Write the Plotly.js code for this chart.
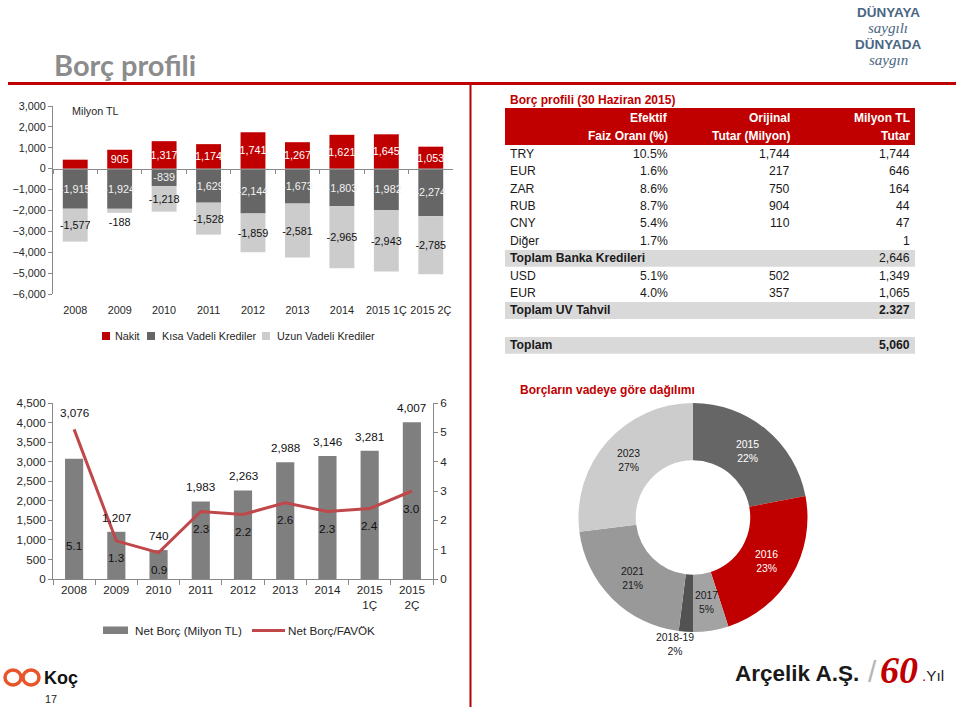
<!DOCTYPE html>
<html><head><meta charset="utf-8">
<script src="https://cdn.plot.ly/plotly-3.0.1.min.js"></script>
<style>html,body{margin:0;padding:0;background:#fff;}#chart{width:960px;height:707px;}</style>
</head><body><div id="chart"></div>
<script>
// ---------- DATA ----------
const years = ['2008','2009','2010','2011','2012','2013','2014','2015 1Ç','2015 2Ç'];
const nakit = [430, 905, 1317, 1174, 1741, 1267, 1621, 1645, 1053];
const kisaVadeli = [-1915, -1924, -839, -1629, -2144, -1673, -1803, -1982, -2274];
const uzunVadeli = [-1577, -188, -1218, -1528, -1859, -2581, -2965, -2943, -2785];
const nakitUnlabeled = ['2008'];
const topSeriesNames = ['Nakit', 'Kısa Vadeli Krediler', 'Uzun Vadeli Krediler'];

const nbYears = ['2008','2009','2010','2011','2012','2013','2014','2015<br>1Ç','2015<br>2Ç'];
const netBorc = [3076, 1207, 740, 1983, 2263, 2988, 3146, 3281, 4007];
const netBorcFavok = [5.1, 1.3, 0.9, 2.3, 2.2, 2.6, 2.3, 2.4, 3.0];
const bottomSeriesNames = ['Net Borç (Milyon TL)', 'Net Borç/FAVÖK'];

const vadeLabels = ['2015', '2016', '2017', '2018-19', '2021', '2023'];
const vadeShare = [22, 23, 5, 2, 21, 27];

const tblHeader1 = ['', 'Efektif', 'Orijinal', 'Milyon TL'];
const tblHeader2 = ['', 'Faiz Oranı (%)', 'Tutar (Milyon)', 'Tutar'];
const tblLabels = ['TRY','EUR','ZAR','RUB','CNY','Diğer','Toplam Banka Kredileri','USD','EUR','Toplam UV Tahvil','','Toplam'];
const tblRate = ['10.5%','1.6%','8.6%','8.7%','5.4%','1.7%','','5.1%','4.0%','','',''];
const tblOrig = ['1,744','217','750','904','110','','','502','357','','',''];
const tblTL = ['1,744','646','164','44','47','1','2,646','1,349','1,065','2.327','','5,060'];

// ---------- STYLE ----------
const W = 960, H = 707;
const px = v => v / W;
const py = v => 1 - v / H;
function fontExists(name){
  const c = document.createElement('canvas').getContext('2d');
  const t = 'abcdefghijklmnopqrstuvwxyz0123456789ABCDEF';
  c.font = '40px monospace'; const a = c.measureText(t).width;
  c.font = '40px "' + name + '", monospace'; const b = c.measureText(t).width;
  return Math.abs(a - b) > 0.5;
}
const HAS_NARROW = fontExists('Liberation Sans Narrow');
const NARROW = HAS_NARROW ? '"Liberation Sans Narrow", "Arial Narrow", sans-serif' : '"Liberation Sans", Arial, sans-serif';
const ns = s => HAS_NARROW ? s : Math.round(s * 0.9 * 10) / 10;
const ARIAL = '"Liberation Sans", Arial, sans-serif';
const C_RED = '#c00000', C_DARK = '#666666', C_LIGHT = '#cccccc', C_AXIS = '#898989', C_TXT = '#262626';
const C_BAR2 = '#7f7f7f', C_LINE = '#c0474a';
const vadeColors = ['#666666', '#c00000', '#a3a3a3', '#525252', '#999999', '#cccccc'];
const vadeTextColors = ['#ffffff', '#ffffff', '#1a1a1a', '#1a1a1a', '#1a1a1a', '#1a1a1a'];
const tblRowKind = ['', '', '', '', '', '', 'sub', '', '', 'total', 'gap', 'total'];
const barLabelLift = {'2008': 38};
const favokLabelDrop = {'2008': 116};

const fmt = v => v.toLocaleString('en-US');

// ---------- TOP CHART ----------
const TOP = {x0: 53, x1: 453, yTop: 106, yBot: 294, ymin: -6000, ymax: 3000};
const zeroPos = py(TOP.yBot) + (py(TOP.yTop) - py(TOP.yBot)) * (-TOP.ymin / (TOP.ymax - TOP.ymin));
const topColors = [C_RED, C_DARK, C_LIGHT];
const barCommon = {type: 'bar', x: years, xaxis: 'x', yaxis: 'y', width: 0.56, textangle: 0,
  constraintext: 'none', insidetextanchor: 'middle', hoverinfo: 'skip', cliponaxis: false};
const traces = [];
traces.push(Object.assign({}, barCommon, {name: topSeriesNames[0], y: nakit, marker: {color: topColors[0]},
  text: nakit.map((v, i) => nakitUnlabeled.includes(years[i]) ? '' : fmt(v)), textposition: 'inside',
  insidetextfont: {family: NARROW, size: ns(12), color: '#ffffff'}}));
traces.push(Object.assign({}, barCommon, {name: topSeriesNames[1], y: kisaVadeli, marker: {color: topColors[1]},
  text: kisaVadeli.map(fmt), textposition: 'inside',
  insidetextfont: {family: NARROW, size: ns(12), color: '#f2f2f2'}}));
traces.push(Object.assign({}, barCommon, {name: topSeriesNames[2], y: uzunVadeli, marker: {color: topColors[2]},
  text: uzunVadeli.map(fmt), textposition: uzunVadeli.map(v => Math.abs(v) < 500 ? 'outside' : 'inside'),
  insidetextfont: {family: NARROW, size: ns(12), color: '#111111'},
  outsidetextfont: {family: NARROW, size: ns(12), color: '#111111'}}));

// ---------- BOTTOM CHART ----------
const BOT = {x0: 53, x1: 433, yTop: 403, yBot: 579};
traces.push({type: 'bar', name: bottomSeriesNames[0], x: nbYears, y: netBorc, xaxis: 'x2', yaxis: 'y2', width: 0.43,
  marker: {color: C_BAR2}, hoverinfo: 'skip'});
traces.push({type: 'scatter', mode: 'lines', name: bottomSeriesNames[1], x: nbYears, y: netBorcFavok, xaxis: 'x2', yaxis: 'y3',
  line: {color: C_LINE, width: 3}, hoverinfo: 'skip', cliponaxis: false});

// ---------- DONUT ----------
const PIE = {x0: 578, x1: 808, yTop: 403, yBot: 632};
traces.push({type: 'pie', labels: vadeLabels, values: vadeShare, hole: 0.5, sort: false, direction: 'clockwise',
  rotation: 0, marker: {colors: vadeColors, line: {width: 0}}, textinfo: 'none', hoverinfo: 'skip', showlegend: false,
  domain: {x: [px(PIE.x0), px(PIE.x1)], y: [py(PIE.yBot), py(PIE.yTop)]}});

// ---------- ANNOTATIONS & SHAPES ----------
const ann = [];
const shp = [];
function A(x, y, text, o){ ann.push(Object.assign({xref: 'paper', yref: 'paper', x: px(x), y: py(y), text: text,
  showarrow: false, xanchor: 'left', yanchor: 'middle'}, o || {})); }
function font(f, s, c){ return {family: f, size: s, color: c}; }

// header
A(52, 65, '<b>Borç profili</b>', {font: font('Lato, "Open Sans", sans-serif', 29, '#8c8c8c')});
shp.push({type: 'line', xref: 'paper', yref: 'paper', x0: px(8), x1: px(956), y0: py(83.5), y1: py(83.5), line: {color: C_RED, width: 3}});
shp.push({type: 'line', xref: 'paper', yref: 'paper', x0: px(470.5), x1: px(470.5), y0: py(83.5), y1: py(707), line: {color: '#b30000', width: 2}});

// top chart extras
A(70, 111, 'Milyon TL', {font: font(NARROW, ns(12), C_TXT)});
const topLegX = [[102, 113], [147, 160], [262, 275]];
topSeriesNames.forEach((n, i) => {
  shp.push({type: 'rect', xref: 'paper', yref: 'paper', x0: px(topLegX[i][0]), x1: px(topLegX[i][0] + 8),
    y0: py(340), y1: py(332), fillcolor: topColors[i], line: {width: 0}});
  A(topLegX[i][1], 336.5, n, {font: font(NARROW, ns(12), C_TXT)});
});

// bottom chart labels
netBorc.forEach((v, i) => {
  ann.push({xref: 'x2', yref: 'y2', x: i, y: v, text: fmt(v), showarrow: false, yanchor: 'bottom',
    yshift: barLabelLift[years[i]] || 6, font: font(NARROW, ns(13), '#111')});
});
netBorcFavok.forEach((v, i) => {
  ann.push({xref: 'x2', yref: 'y3', x: i, y: v, text: v.toFixed(1), showarrow: false, yanchor: 'middle',
    yshift: -(favokLabelDrop[years[i]] || 17), font: font(NARROW, ns(13), '#111')});
});
shp.push({type: 'rect', xref: 'paper', yref: 'paper', x0: px(103), x1: px(128), y0: py(634), y1: py(626.5), fillcolor: C_BAR2, line: {width: 0}});
A(133, 630.5, bottomSeriesNames[0], {font: font(NARROW, ns(13), C_TXT)});
shp.push({type: 'line', xref: 'paper', yref: 'paper', x0: px(252), x1: px(285), y0: py(630.5), y1: py(630.5), line: {color: C_LINE, width: 3}});
A(286, 630.5, bottomSeriesNames[1], {font: font(NARROW, ns(13), C_TXT)});

// table
const TBL = {x0: 505, x1: 915, top: 108, headH: 37, rowH: 17.4, colRight: [0, 670, 792, 912], labelX: 508};
A(508, 100, '<b>Borç profili (30 Haziran 2015)</b>', {font: font(ARIAL, 12, C_RED)});
shp.push({type: 'rect', xref: 'paper', yref: 'paper', x0: px(TBL.x0), x1: px(TBL.x1), y0: py(TBL.top + TBL.headH), y1: py(TBL.top),
  fillcolor: C_RED, line: {width: 0}});
for (let c = 1; c < 4; c++) {
  A(TBL.colRight[c], TBL.top + 10.5, '<b>' + tblHeader1[c] + '</b>', {xanchor: 'right', font: font(ARIAL, 12, '#ffffff')});
  A(TBL.colRight[c], TBL.top + 28, '<b>' + tblHeader2[c] + '</b>', {xanchor: 'right', font: font(ARIAL, 12, '#ffffff')});
}
const rowsTop = TBL.top + TBL.headH;
tblLabels.forEach((lab, r) => {
  const kind = tblRowKind[r];
  if (kind === 'gap') return;
  const y0 = rowsTop + r * TBL.rowH, yc = y0 + TBL.rowH / 2;
  if (kind === 'sub' || kind === 'total') {
    shp.push({type: 'rect', xref: 'paper', yref: 'paper', x0: px(TBL.x0), x1: px(TBL.x1), y0: py(y0 + TBL.rowH), y1: py(y0 + 0.5),
      fillcolor: '#d9d9d9', line: {width: 0}, layer: 'below'});
  }
  const bl = kind ? '<b>' + lab + '</b>' : lab;
  A(TBL.labelX, yc, bl, {font: font(NARROW, ns(13.5), '#1a1a1a')});
  const cells = [tblRate[r], tblOrig[r], tblTL[r]];
  cells.forEach((t, c) => {
    if (!t) return;
    const txt = (kind === 'total') ? '<b>' + t + '</b>' : t;
    A(TBL.colRight[c + 1], yc, txt, {xanchor: 'right', font: font(NARROW, ns(13.5), '#1a1a1a')});
  });
});

// donut title and labels
A(518, 390, '<b>Borçların vadeye göre dağılımı</b>', {font: font(ARIAL, 12, C_RED)});
const pcx = (PIE.x0 + PIE.x1) / 2, pcy = (PIE.yTop + PIE.yBot) / 2;
const pR = Math.min(PIE.x1 - PIE.x0, PIE.yBot - PIE.yTop) / 2;
const totalShare = vadeShare.reduce((a, b) => a + b, 0);
let cum = 0;
vadeShare.forEach((v, i) => {
  const mid = (cum + v / 2) / totalShare * 2 * Math.PI;
  cum += v;
  const outside = v / totalShare < 0.04;
  const r = outside ? pR + 13 : pR * 0.75;
  const x = pcx + r * Math.sin(mid), y = pcy - r * Math.cos(mid);
  A(outside ? x - 10 : x, y, vadeLabels[i] + '<br>' + v + '%', {xanchor: 'center',
    font: font(NARROW, ns(11.5), outside ? '#1a1a1a' : vadeTextColors[i])});
});

// logos
const LOGO_BLUE = '#4a6783';
A(888, 12, '<b>DÜNYAYA</b>', {xanchor: 'center', font: font(NARROW, ns(15), LOGO_BLUE)});
A(888, 28, '<i>saygılı</i>', {xanchor: 'center', font: font('"Liberation Serif", serif', 15, LOGO_BLUE)});
A(888, 44, '<b>DÜNYADA</b>', {xanchor: 'center', font: font(NARROW, ns(15), LOGO_BLUE)});
A(888, 60, '<i>saygın</i>', {xanchor: 'center', font: font('"Liberation Serif", serif', 15, LOGO_BLUE)});
shp.push({type: 'circle', xref: 'paper', yref: 'paper', x0: px(5), x1: px(21), y0: py(685), y1: py(670), line: {color: '#e8552a', width: 3.5}});
shp.push({type: 'circle', xref: 'paper', yref: 'paper', x0: px(23), x1: px(39), y0: py(685), y1: py(670), line: {color: '#e8552a', width: 3.5}});
A(42, 678, '<b>Koç</b>', {font: font(NARROW, ns(20), '#111')});
A(43, 699, '17', {font: font(NARROW, ns(12), '#222')});
A(733, 673, '<b>Arçelik A.Ş.</b>', {font: font(NARROW, ns(25), '#1a1a1a')});
A(866, 671, '/', {font: font(ARIAL, 30, '#b5b5b5')});
A(878, 670, '<i><b>60</b></i>', {font: font('"Liberation Serif", serif', 38, C_RED)});
A(920, 675, '<span style="color:#c00000">.</span>Yıl', {font: font(NARROW, ns(17), '#1a1a1a')});

// ---------- LAYOUT ----------
const axisBase = {showline: true, linecolor: C_AXIS, linewidth: 1, ticks: 'outside', tickcolor: C_AXIS, showgrid: false, zeroline: false, fixedrange: true};
const layout = {
  width: W, height: H, margin: {l: 0, r: 0, t: 0, b: 0}, paper_bgcolor: '#ffffff', plot_bgcolor: 'rgba(0,0,0,0)',
  showlegend: false, barmode: 'relative', font: {family: ARIAL, color: C_TXT},
  xaxis: Object.assign({}, axisBase, {domain: [px(TOP.x0), px(TOP.x1)], anchor: 'free', position: zeroPos, type: 'category',
    tickson: 'boundaries', ticklen: 4, tickangle: 0, ticklabelstandoff: 131, tickfont: font(NARROW, ns(12), C_TXT)}),
  yaxis: Object.assign({}, axisBase, {domain: [py(TOP.yBot), py(TOP.yTop)], anchor: 'x', range: [TOP.ymin, TOP.ymax],
    dtick: 1000, tickformat: ',', ticklen: 4, tickfont: font(NARROW, ns(12), C_TXT)}),
  xaxis2: Object.assign({}, axisBase, {domain: [px(BOT.x0), px(BOT.x1)], anchor: 'y2', type: 'category',
    tickson: 'boundaries', ticklen: 5, tickangle: 0, tickfont: font(NARROW, ns(13), C_TXT)}),
  yaxis2: Object.assign({}, axisBase, {domain: [py(BOT.yBot), py(BOT.yTop)], anchor: 'x2', range: [0, 4500],
    dtick: 500, tickformat: ',', ticklen: 4, tickfont: font(NARROW, ns(13), C_TXT)}),
  yaxis3: Object.assign({}, axisBase, {overlaying: 'y2', side: 'right', anchor: 'x2', range: [0, 6],
    dtick: 1, ticklen: 4, tickfont: font(NARROW, ns(13), C_TXT)}),
  annotations: ann, shapes: shp
};
Plotly.newPlot('chart', traces, layout, {staticPlot: true, displayModeBar: false});
</script>
</body></html>
